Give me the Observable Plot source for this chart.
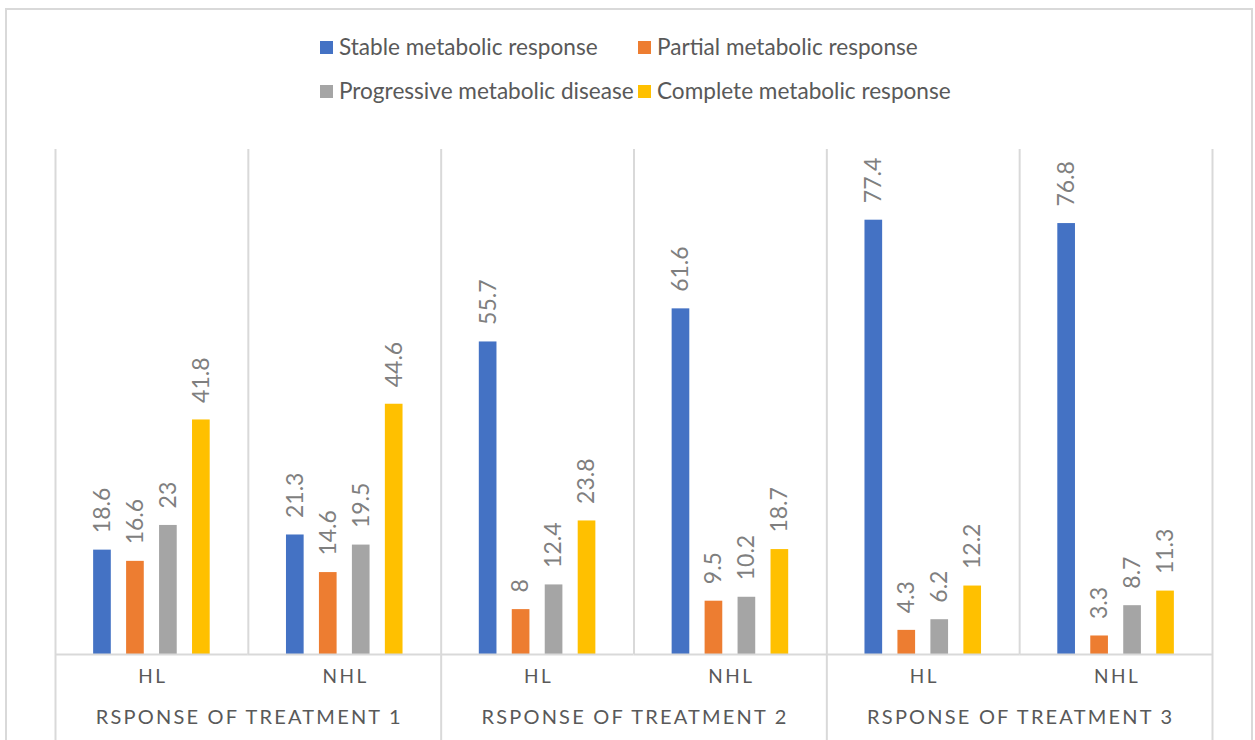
<!DOCTYPE html>
<html>
<head>
<meta charset="utf-8">
<script src="https://cdn.jsdelivr.net/npm/d3@7"></script>
<script src="https://cdn.jsdelivr.net/npm/@observablehq/plot@0.6"></script>
<style>
  body { margin: 0; background: #fff; font-family: Lato, "Open Sans", sans-serif; }
  #wrap { position: relative; width: 1255px; height: 740px; overflow: hidden; background: #fff; }
  #border { position: absolute; left: 5px; top: 8px; width: 1248px; height: 800px; border: 2px solid #d9d9d9; box-sizing: border-box; }
  #chart { position: absolute; left: 0; top: 0; }
  .leg { position: absolute; display: flex; align-items: center; font-size: 22.6px; color: #595959; white-space: nowrap; line-height: 1; }
  .leg .sw { width: 13px; height: 13px; margin-right: 6px; flex: none; }
</style>
</head>
<body>
<div id="wrap">
  <div id="border"></div>
  <div id="chart"></div>
  <div id="legend"></div>
</div>
<script>
// ---- data ----
const treatments = ["RSPONSE OF TREATMENT 1", "RSPONSE OF TREATMENT 2", "RSPONSE OF TREATMENT 3"];
const subgroups = ["HL", "NHL"];
const series = ["Stable metabolic response", "Partial metabolic response", "Progressive metabolic disease", "Complete metabolic response"];
const colors = ["#4472C4", "#ED7D31", "#A5A5A5", "#FFC000"];
// values per panel: T1-HL, T1-NHL, T2-HL, T2-NHL, T3-HL, T3-NHL
const stable      = [18.6, 21.3, 55.7, 61.6, 77.4, 76.8];
const partial     = [16.6, 14.6, 8, 9.5, 4.3, 3.3];
const progressive = [23, 19.5, 12.4, 10.2, 6.2, 8.7];
const complete    = [41.8, 44.6, 23.8, 18.7, 12.2, 11.3];
const seriesValues = [stable, partial, progressive, complete];

// ---- build table ----
const panels = [];
treatments.forEach((t, ti) => subgroups.forEach((g, gi) => panels.push({key: t + "|" + g, treatment: t, sub: g, first: gi === 0, idx: ti * 2 + gi})));
const rows = [];
panels.forEach(p => series.forEach((s, si) => rows.push({key: p.key, series: s, value: seriesValues[si][p.idx]})));

const W = 1255, H = 740, mL = 55, mR = 43, mT = 149, mB = 86;
const fw = (W - mL - mR) / panels.length;
const grid = "#d9d9d9";

const leftLines = [];
panels.forEach(p => {
  leftLines.push({key: p.key, y1: 0, y2: 90});
  if (p.first) leftLines.push({key: p.key, y1: 0, y2: -20});
});
const lastKey = panels[panels.length - 1].key;
const rightLines = [{key: lastKey, y1: 90, y2: -20}];

const chart = Plot.plot({
  width: W, height: H,
  marginLeft: mL, marginRight: mR, marginTop: mT, marginBottom: mB,
  style: {background: "transparent", fontFamily: "Lato, 'Open Sans', sans-serif"},
  fx: {domain: panels.map(p => p.key), padding: 0, round: false, axis: null},
  x: {domain: series, paddingInner: 0.464, paddingOuter: 1.157, round: false, axis: null},
  y: {domain: [0, 90], axis: null},
  color: {domain: series, range: colors},
  marks: [
    Plot.ruleX(leftLines, {fx: "key", x: null, y1: "y1", y2: "y2", dx: -fw / 2, stroke: grid, strokeWidth: 2}),
    Plot.ruleX(rightLines, {fx: "key", x: null, y1: "y1", y2: "y2", dx: fw / 2, stroke: grid, strokeWidth: 2}),
    Plot.barY(rows, {fx: "key", x: "series", y: "value", fill: "series"}),
    Plot.ruleY([0], {stroke: grid, strokeWidth: 2}),
    Plot.text(rows, {fx: "key", x: "series", y: "value", text: d => String(d.value), rotate: -90, textAnchor: "start", dy: -17, fontSize: 23, fill: "#7f7f7f"}),
    Plot.text(panels, {fx: "key", text: "sub", frameAnchor: "bottom", dy: 28, dx: 1, fontSize: 19, fill: "#595959", ariaLabel: "subgroup"}),
    Plot.text(panels.filter(p => p.first), {fx: "key", text: "treatment", frameAnchor: "bottom-right", textAnchor: "middle", dy: 69, dx: 1, fontSize: 20, fill: "#595959", ariaLabel: "treatment"})
  ]
});
document.getElementById("chart").appendChild(chart);

// letter spacing for category axis labels
d3.select(chart).selectAll("text").each(function() {
  const t = this.textContent;
  if (subgroups.includes(t)) this.setAttribute("letter-spacing", "2.5");
  else if (treatments.includes(t)) this.setAttribute("letter-spacing", "2.2");
});

// ---- legend ----
const legend = document.getElementById("legend");
const legPos = [[320, 47], [638, 47], [320, 91], [638, 91]];
series.forEach((s, i) => {
  const d = document.createElement("div");
  d.className = "leg";
  d.style.left = legPos[i][0] + "px";
  d.style.top = (legPos[i][1] - 12) + "px";
  d.style.height = "24px";
  const sw = document.createElement("span");
  sw.className = "sw";
  sw.style.background = colors[i];
  const tx = document.createElement("span");
  tx.textContent = s;
  d.appendChild(sw); d.appendChild(tx);
  legend.appendChild(d);
});
</script>
</body>
</html>
